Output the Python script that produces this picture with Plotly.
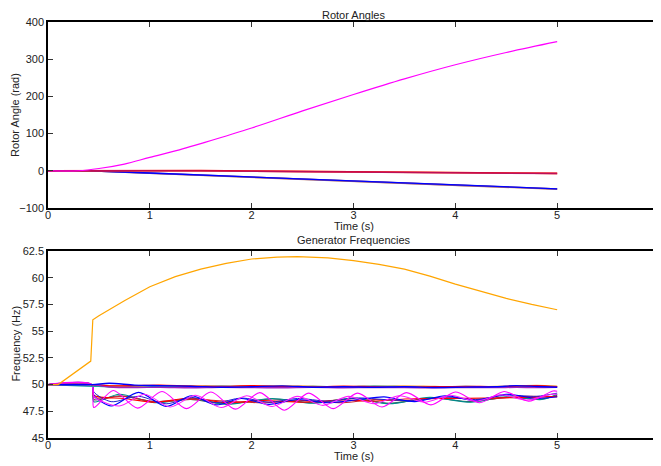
import plotly.graph_objects as go

# ---------------- Rotor angles (top panel) ----------------
ang_t = [0, 0.3, 0.5, 0.75, 1.0, 1.29, 1.5, 2.0, 2.5, 3.0, 3.5, 4.0, 4.5, 5.0]
ang_magenta = [0, 0, 6, 18, 36, 56, 73, 115, 161, 205, 247, 285, 318, 347]

angc_t = [0, 0.4, 1.0, 1.5, 2.0, 2.5, 3.0, 3.5, 4.0, 4.5, 5.0]
ang_red = [0, 0.5, 1.0, 0.5, -0.8, -2.0, -3.0, -4.0, -5.0, -6.0, -7.0]
ang_crimson = [0, 0.3, 0.5, -0.2, -1.3, -2.4, -3.4, -4.3, -5.3, -6.5, -7.5]
ang_orange = [0, 0.4, 0.8, 0.2, -1.0, -2.2, -3.2, -4.2, -5.2, -6.3, -7.2]
ang_blue = [0, 0, -6, -11.5, -17, -22.5, -28, -33, -38, -43, -48.5]
ang_brown = [0, 0, -6.8, -12.3, -17.8, -23.5, -28.8, -34, -39, -44, -49.5]
ang_purple = [0, 0, -6.3, -11.9, -17.4, -23.0, -28.4, -33.5, -38.5, -43.5, -49.0]

# ---------------- Generator frequencies (bottom panel) ----------------
f_orange_t = [0, 0.1, 0.42, 0.44, 0.5, 0.75, 1.0, 1.25, 1.5, 1.75, 2.0, 2.25, 2.45,
              2.75, 3.0, 3.25, 3.5, 3.75, 4.0, 4.25, 4.5, 4.75, 5.0]
f_orange = [50, 50, 52.2, 56.06, 56.45, 57.85, 59.15, 60.1, 60.8, 61.35, 61.75, 61.93, 61.97,
            61.85, 61.6, 61.25, 60.8, 60.15, 59.4, 58.7, 58.06, 57.5, 57.0]

# upper bundle (stay near 50 Hz)
fu_t = [0, 0.43, 0.6, 0.85, 1.1, 1.4, 1.7, 2.0, 2.3, 2.6, 2.9, 3.2, 3.5, 3.8, 4.1, 4.4, 4.6, 4.8, 5.0]
fu_blue = [50, 50, 50.12, 49.95, 49.9, 49.85, 49.75, 49.8, 49.88, 49.75, 49.8, 49.75, 49.8, 49.72, 49.76, 49.8, 49.9, 49.82, 49.75]
fu_red = [50, 50, 49.88, 49.9, 49.95, 49.85, 49.82, 49.9, 49.8, 49.78, 49.85, 49.8, 49.76, 49.8, 49.84, 49.8, 49.86, 49.9, 49.8]
fu_teal = [50, 49.85, 49.8, 49.75, 49.82, 49.78, 49.85, 49.8, 49.75, 49.82, 49.78, 49.85, 49.8, 49.76, 49.82, 49.78, 49.8, 49.85, 49.8]
fu_purple = [50, 50, 49.78, 49.72, 49.75, 49.7, 49.75, 49.72, 49.7, 49.74, 49.7, 49.73, 49.72, 49.7, 49.73, 49.72, 49.74, 49.72, 49.74]
fu_orange = [50, 50, 49.9, 49.85, 49.88, 49.9, 49.82, 49.85, 49.9, 49.84, 49.8, 49.85, 49.88, 49.82, 49.78, 49.82, 49.88, 49.92, 49.85]

# lower bundle (drop after fault at ~0.43 s)
fm1_t = [0, 0.43, 0.45, 0.64, 0.88, 1.12, 1.36, 1.6, 1.84, 2.08, 2.32, 2.56, 2.8, 3.04,
         3.28, 3.52, 3.76, 4.0, 4.24, 4.48, 4.72, 4.96, 5.0]
fm1 = [50, 50, 47.85, 49.45, 47.8, 49.35, 47.75, 49.3, 47.7, 49.25, 47.6, 49.2, 47.75, 49.2,
       47.9, 49.25, 48.1, 49.3, 48.3, 49.35, 48.45, 49.4, 49.38]

fm2_t = [0, 0.43, 0.45, 0.7, 0.95, 1.2, 1.45, 1.7, 1.95, 2.2, 2.45, 2.7, 2.95, 3.2,
         3.45, 3.7, 3.95, 4.2, 4.45, 4.7, 4.95, 5.0]
fm2 = [50, 50, 48.9, 48.0, 49.1, 47.9, 49.0, 47.85, 48.95, 47.95, 48.9, 48.05, 48.9, 48.2,
       48.95, 48.35, 49.0, 48.45, 49.05, 48.55, 49.1, 49.1]

fb_t = [0, 0.43, 0.45, 0.62, 0.89, 1.16, 1.41, 1.65, 1.9, 2.17, 2.45, 2.75, 3.05, 3.3,
        3.6, 3.9, 4.2, 4.5, 4.8, 5.0]
fb1 = [50, 50, 49.0, 48.0, 49.27, 47.95, 48.95, 48.1, 48.7, 48.15, 48.6, 48.3, 48.6, 48.85,
       48.4, 48.95, 48.5, 49.1, 48.7, 48.86]
fb2 = [50, 50, 49.3, 48.4, 48.9, 48.2, 48.8, 48.3, 48.75, 48.35, 48.7, 48.45, 48.75, 48.6,
       48.5, 48.85, 48.6, 49.0, 48.9, 49.2]

fr_t = [0, 0.43, 0.45, 0.75, 1.05, 1.4, 1.75, 2.1, 2.5, 2.9, 3.2, 3.5, 3.9, 4.3, 4.7, 5.0]
fr1 = [50, 50, 49.0, 48.7, 48.35, 48.75, 48.3, 48.5, 48.35, 48.55, 48.45, 48.65, 48.7, 48.75, 48.8, 48.9]
fr2 = [50, 50, 48.8, 48.9, 48.4, 48.6, 48.45, 48.3, 48.5, 48.3, 48.6, 48.5, 48.75, 48.65, 48.9, 48.85]

ft_t = [0, 0.43, 0.45, 0.7, 1.05, 1.4, 1.75, 2.2, 2.6, 3.0, 3.35, 3.75, 4.15, 4.5, 4.85, 5.0]
ft1 = [50, 50, 48.4, 49.1, 48.3, 48.7, 48.15, 48.7, 48.25, 48.75, 48.2, 48.8, 48.35, 48.85, 48.6, 49.1]
ft2 = [50, 50, 48.6, 48.95, 48.4, 48.6, 48.2, 48.65, 48.3, 48.7, 48.25, 48.75, 48.4, 48.8, 48.65, 49.0]

FONT = "Liberation Sans"

fig = go.Figure()

def add(x, y, color, ax, width=1.1, shape="spline", smoothing=1.0):
    fig.add_trace(go.Scatter(
        x=x, y=y, mode="lines", showlegend=False, hoverinfo="skip",
        line=dict(color=color, width=width, shape=shape,
                  smoothing=smoothing if shape == "spline" else None),
        xaxis="x" if ax == 1 else "x2", yaxis="y" if ax == 1 else "y2"))

# top panel
add(angc_t, ang_brown, "rgba(180,100,60,0.8)", 1, 1.6, "linear")
add(angc_t, ang_purple, "rgba(110,60,160,0.8)", 1, 1.6, "linear")
add(angc_t, ang_blue, "#0000ff", 1, 1.3, "linear")
add(angc_t, ang_orange, "rgba(255,150,60,0.7)", 1, 1.6, "linear")
add(angc_t, ang_red, "#ff0000", 1, 1.6, "linear")
add(angc_t, ang_crimson, "rgba(176,16,106,0.85)", 1, 1.4, "linear")
add(ang_t, ang_magenta, "#ff00ff", 1, 1.2, "spline", 1.0)

# bottom panel
add(ft_t, ft2, "#4a5a5a", 2, 1.1, "spline", 0.8)
add(ft_t, ft1, "#008b8b", 2, 1.1, "spline", 0.8)
add(fr_t, fr2, "#cc2233", 2, 1.1, "spline", 0.8)
add(fr_t, fr1, "#ff0000", 2, 1.1, "spline", 0.8)
add(fb_t, fb2, "#2222cc", 2, 1.0, "spline", 0.8)
add(fb_t, fb1, "#0000ff", 2, 1.1, "spline", 0.8)
add(fm2_t, fm2, "#ff22ff", 2, 1.1, "spline", 0.8)
add(fm1_t, fm1, "#ff00ff", 2, 1.1, "spline", 0.8)
add(fu_t, fu_orange, "#ffa040", 2, 1.4, "spline", 0.8)
add(fu_t, fu_teal, "#20a0a0", 2, 1.4, "spline", 0.8)
add(fu_t, fu_red, "#ff0000", 2, 1.3, "spline", 0.8)
add(fu_t, fu_purple, "#a020c0", 2, 1.4, "spline", 0.8)
add(fu_t, fu_blue, "#0000ff", 2, 1.4, "spline", 0.8)
add(f_orange_t, f_orange, "#ffa500", 2, 1.2, "linear")

axis_common = dict(showline=True, linecolor="black", linewidth=1.5, mirror="ticks",
                   ticks="inside", ticklen=5, tickcolor="#333", tickwidth=1,
                   showgrid=False, zeroline=False,
                   tickfont=dict(family=FONT, size=11, color="#222"))

x_ticks = [0, 1, 2, 3, 4, 5, 6]
ang_ticks = [-100, 0, 100, 200, 300, 400]
f_ticks = [45, 47.5, 50, 52.5, 55, 57.5, 60, 62.5]
f_ticktext = ["45", "47.5", "50", "52.5", "55", "57.5", "60", "62.5"]

# the page body has an 8 px margin, so the figure is 8 px smaller and margins compensate
fig.update_layout(
    width=653, height=458,
    margin=dict(l=40, r=0, t=14, b=28),
    paper_bgcolor="white", plot_bgcolor="white",
    font=dict(family=FONT, size=11, color="#222"),
    xaxis=dict(domain=[0, 1], anchor="y", range=[0, 6], tickvals=x_ticks,
               ticklabelstandoff=-4, **axis_common),
    yaxis=dict(domain=[0.553, 1], anchor="x", range=[-100, 400], tickvals=ang_ticks, **axis_common),
    xaxis2=dict(domain=[0, 1], anchor="y2", range=[0, 6], tickvals=x_ticks,
                ticklabelstandoff=-4, **axis_common),
    yaxis2=dict(domain=[0, 0.4495], anchor="x2", range=[45, 62.5], tickvals=f_ticks,
                ticktext=f_ticktext, **axis_common),
)

ann = dict(xref="paper", yref="paper", showarrow=False, font=dict(family=FONT, size=11, color="#222"))
fig.add_annotation(text="Rotor Angles", x=0.5, y=1.0168, xanchor="center", yanchor="middle", **ann)
fig.add_annotation(text="Time (s)", x=0.5, y=0.5096, xanchor="center", yanchor="middle", **ann)
fig.add_annotation(text="Generator Frequencies", x=0.5, y=0.476, xanchor="center", yanchor="middle", **ann)
fig.add_annotation(text="Time (s)", x=0.5, y=-0.043, xanchor="center", yanchor="middle", **ann)
fig.add_annotation(text="Rotor Angle (rad)", x=-0.0545, y=0.776, textangle=-90,
                   xanchor="center", yanchor="middle", **ann)
fig.add_annotation(text="Frequency (Hz)", x=-0.053, y=0.226, textangle=-90,
                   xanchor="center", yanchor="middle", **ann)

fig.write_html("out.html")
